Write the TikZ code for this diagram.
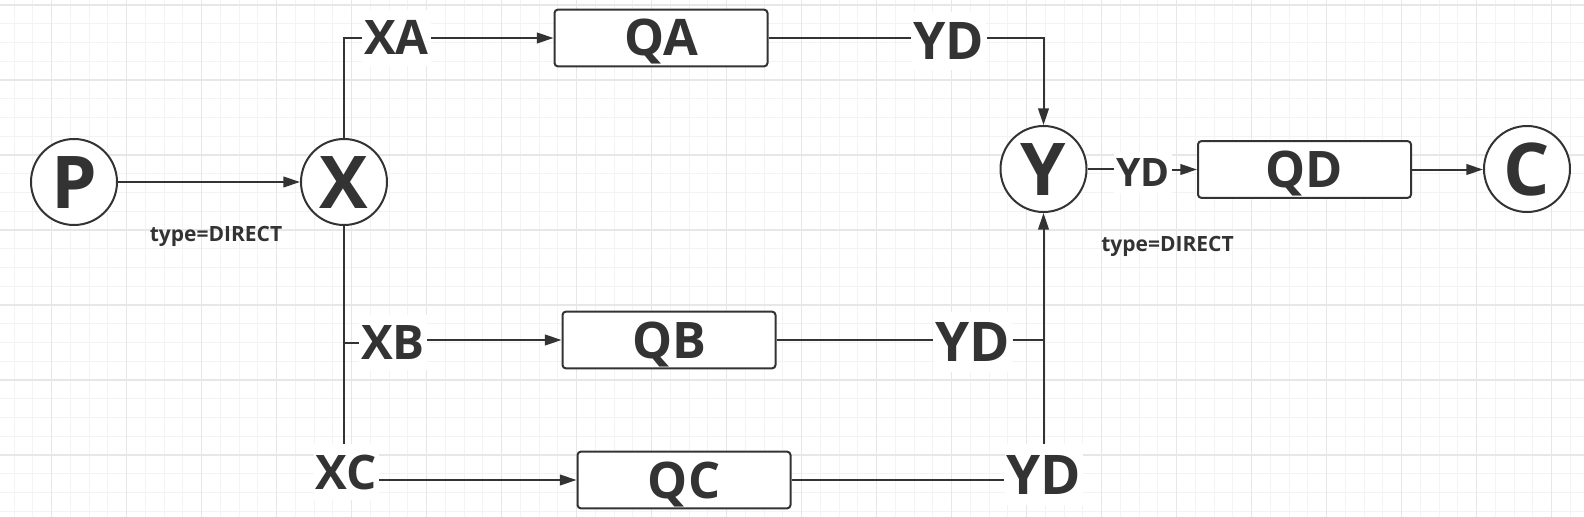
\documentclass[tikz,border=0pt]{standalone}
\usepackage{fontspec}
\setmainfont{Open Sans}
\usetikzlibrary{arrows.meta}
\definecolor{ink}{HTML}{333333}
\definecolor{gminor}{HTML}{F3F3F3}
\definecolor{gmajor}{HTML}{E7E7E7}
\tikzset{
  circ/.style={circle, draw=ink, line width=1.5pt, fill=white, minimum size=64.5pt, inner sep=0pt, text=ink,
    font=\fontsize{54.6}{55}\selectfont\bfseries, text height=39pt, text depth=0pt},
  qbox/.style={rectangle, draw=ink, line width=1.5pt, rounded corners=2.5pt, fill=white,
    minimum width=159.75pt, minimum height=42.5pt, inner sep=0pt, text=ink,
    font=\fontsize{37.8}{38}\selectfont\bfseries, text height=27pt, text depth=0pt},
  lbl/.style={fill=white, inner xsep=1.5pt, inner ysep=8pt, text=ink, text depth=0pt},
  lblX/.style={lbl, font=\fontsize{35.7}{36}\selectfont\bfseries, text height=25.5pt},
  lblYa/.style={lbl, font=\fontsize{38.9}{39}\selectfont\bfseries, text height=27.75pt},
  lblYb/.style={lbl, font=\fontsize{41}{41}\selectfont\bfseries, text height=29.25pt},
  lblYs/.style={lbl, inner ysep=5pt, font=\fontsize{29.4}{30}\selectfont\bfseries, text height=21pt},
  typelbl/.style={inner sep=0pt, text=ink, font=\fontsize{15.75}{16}\selectfont\bfseries, text height=11.25pt, text depth=0pt},
  conn/.style={draw=ink, line width=1.5pt},
  arr/.style={conn, -{Triangle[length=12.5pt,width=8pt]}},
  gridminor/.style={draw=gminor, line width=0.75pt},
  gridmajor/.style={draw=gmajor, line width=0.9pt},
}
\begin{document}
\begin{tikzpicture}[x=0.75pt, y=-0.75pt]
  \useasboundingbox (0,0) rectangle (1584,517);
  \fill[white] (0,0) rectangle (1584,517);
  % grid
  \foreach \i in {0,...,84} {\draw[gridminor] ({14.2+18.75*\i},0) -- ({14.2+18.75*\i},517);}
  \foreach \j in {0,...,28} {\draw[gridminor] (0,{5+18.75*\j}) -- (1584,{5+18.75*\j});}
  \foreach \i in {0,...,21} {\draw[gridmajor] ({51.7+75*\i},0) -- ({51.7+75*\i},517);}
  \foreach \j in {0,...,6} {\draw[gridmajor] (0,{5+75*\j}) -- (1584,{5+75*\j});}

  % circles
  \node[circ] (P) at (74,182) {P};
  \node[circ] (X) at (344,182) {X};
  \node[circ] (Y) at (1043.5,169) {Y};
  \node[circ] (C) at (1527,169) {C};

  % boxes
  \node[qbox] (QA) at (661,38) {QA};
  \node[qbox] (QB) at (669,340) {QB};
  \node[qbox] (QC) at (684,480) {QC};
  \node[qbox] (QD) at (1304.5,169.5) {QD};

  % labels
  \node[lblX] (XA) at (396.5,38) {XA};
  \node[lblX] (XB) at (393,342.5) {XB};
  \node[lblX] (XC) at (346.5,472) {XC};
  \node[lblYa] (YDa) at (949,41) {YD};
  \node[lblYb] (YDb) at (973,342) {YD};
  \node[lblYb] (YDc) at (1044,474.5) {YD};
  \node[lblYs] (YDs) at (1143,172.5) {YD};
  \node[typelbl] (T1) at (216,234) {type=DIRECT};
  \node[typelbl] (T2) at (1167.5,244) {type=DIRECT};

  % connectors
  \draw[arr] (P) -- (X);
  \draw[conn] (X.north) |- (XA.west);
  \draw[arr] (XA.east) -- (XA.east -| QA.west);
  \draw[conn] (X.south) -- (X.south |- XC.north);
  \draw[conn] (X.south |- XB.west) -- (XB.west);
  \draw[arr] (XB.east |- QB.west) -- (QB.west);
  \draw[arr] (XC.east |- QC.west) -- (QC.west);

  \draw[conn] (QA.east) -- (QA.east -| YDa.west);
  \draw[arr] (YDa.east |- QA.east) -| (Y.north);
  \draw[conn] (QB.east) -- (QB.east -| YDb.west);
  \draw[conn] (YDb.east |- QB.east) -- (QB.east -| Y.south);
  \draw[conn] (QC.east) -- (QC.east -| YDc.west);
  \draw[arr] (YDc.north -| Y.south) -- (Y.south);

  \draw[conn] (Y.east) -- (Y.east -| YDs.west);
  \draw[arr] (YDs.east |- QD.west) -- (QD.west);
  \draw[arr] (QD.east) -- (QD.east -| C.west);
\end{tikzpicture}
\end{document}
